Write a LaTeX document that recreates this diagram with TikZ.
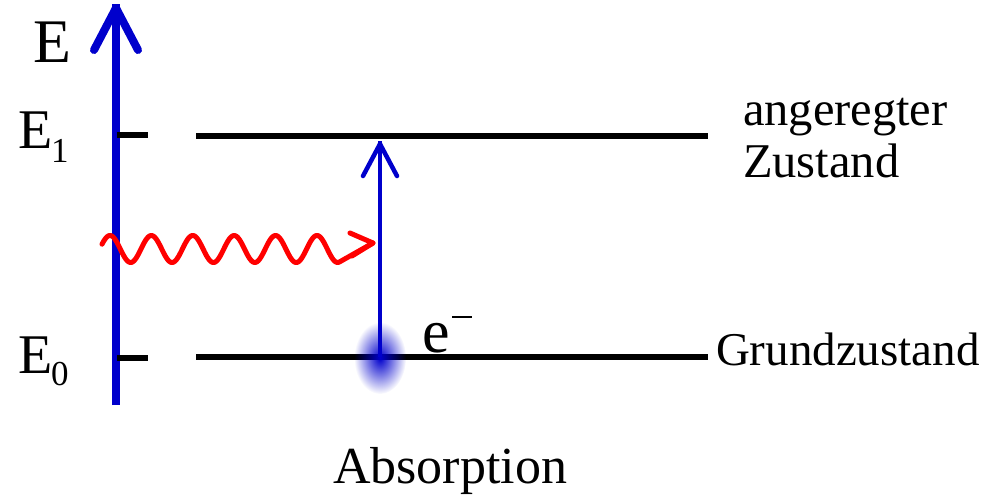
\documentclass[tikz,border=0pt]{standalone}
\usepackage{fontspec}
\setmainfont{Liberation Serif}
\newfontfamily\timesfont{Liberation Serif}
\usetikzlibrary{fadings}
\definecolor{axblue}{RGB}{0,0,204}
\tikzfading[name=blobfade, inner color=transparent!0, outer color=transparent!100]
\tikzset{
  lbl/.style={anchor=base west, inner sep=0pt, outer sep=0pt, font=\timesfont},
  level/.style={line width=6pt},
  axisline/.style={axblue, line width=8pt},
  transline/.style={axblue, line width=4.5pt},
  photon/.style={red, line width=5pt, line cap=round, line join=round},
}
\newcommand{\fs}[1]{\fontsize{#1}{#1}\selectfont}
\begin{document}
\begin{tikzpicture}[x=1pt,y=-1pt]
\useasboundingbox (0,0) rectangle (988,499);
% coordinates
\coordinate (axbot) at (116,405);
\coordinate (axtop) at (116,8);
\coordinate (t1a) at (117,135); \coordinate (t1b) at (148,135);
\coordinate (t0a) at (117,358); \coordinate (t0b) at (148,358);
\coordinate (l1a) at (196,136); \coordinate (l1b) at (708,136);
\coordinate (l0a) at (196,357); \coordinate (l0b) at (708,357);
\coordinate (trbot) at (380,357);
\coordinate (trtop) at (380,144);
\coordinate (phtip) at (373,243);
% energy axis
\draw[axisline] (axbot) -- ([yshift=4pt]axtop);
\draw[axisline, line cap=round, line join=round] (94,50) -- (axtop) -- (138,50);
% ticks and levels
\draw[level] (t1a) -- (t1b);
\draw[level] (t0a) -- (t0b);
\draw[level] (l1a) -- (l1b);
\draw[level] (l0a) -- (l0b);
% transition arrow
\draw[transline] (trbot) -- ([yshift=3pt]trtop);
\draw[transline, line cap=round, line join=round] (363,176) -- (trtop) -- (397,176);
% photon
\draw[photon] plot[domain=102:340, samples=240, smooth] (\x, {249 - 13.5*sin((\x-99.6)/41.4*360)}) -- (phtip);
\draw[photon] (350,233) -- (phtip) -- (352,256);
% electron blob
\fill[axblue, path fading=blobfade] (380,358) ellipse [x radius=26, y radius=36];
% labels
\node[lbl] (E) at (33,62) {\fs{62}E};
\node[lbl] (E1) at (19,148) {\fs{56}E};
\node[lbl] (E1s) at (51,162) {\fs{35}1};
\node[lbl] (E0) at (19,373) {\fs{56}E};
\node[lbl] (E0s) at (51,385) {\fs{35}0};
\node[lbl] (el) at (422,352) {\fs{62}e};
\node[lbl] (elm) at (452,318) {\rule{20pt}{2.5pt}};
\node[lbl] (ang) at (743,125) {\fs{48.5}angeregter};
\node[lbl] (zus) at (743,177) {\fs{48.5}Zustand};
\node[lbl] (gz) at (716,365) {\fs{47}Grundzustand};
\node[lbl] (abs) at (333,483) {\fs{52}Absorption};
\end{tikzpicture}
\end{document}
